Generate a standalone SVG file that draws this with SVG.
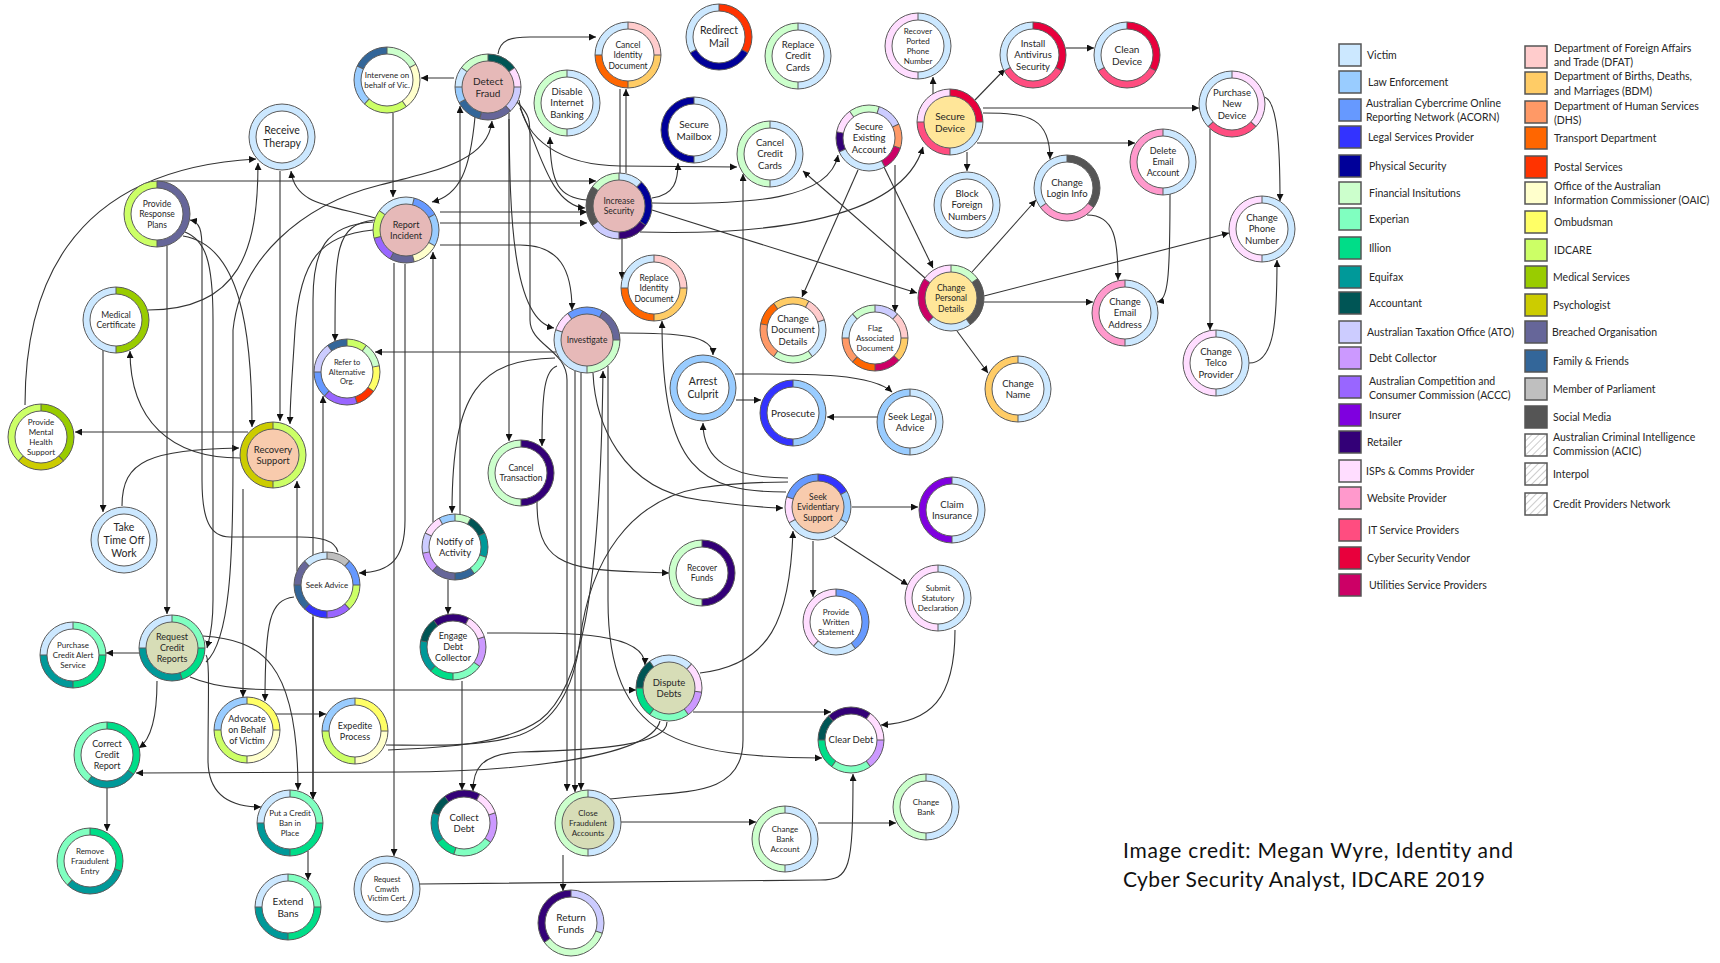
<svg xmlns="http://www.w3.org/2000/svg" width="1720" height="963" viewBox="0 0 1720 963">
<style>
.s{fill:none;stroke-width:7}
.b{fill:none;stroke:#5a5a5a;stroke-width:1}
.sp{stroke:#5a5a5a;stroke-width:1}
.t{font-family:Lato,"Liberation Sans",sans-serif;fill:#262626;text-anchor:middle}
.lg{font-family:Lato,"Liberation Sans",sans-serif;fill:#262626;font-size:10.5px}
.lb{stroke:#555;stroke-width:1.5}
.e{fill:none;stroke:#333;stroke-width:1.1;marker-end:url(#ar)}
.n{fill:none;stroke:#333;stroke-width:1.1}
.vic{stroke:#CCE8FF}.law{stroke:#99CCFF}.aco{stroke:#6699FF}.leg{stroke:#3333FF}.phy{stroke:#000099}
.fin{stroke:#CCFFCC}.exp{stroke:#80FFC0}.ill{stroke:#00DD88}.equ{stroke:#009999}.acc{stroke:#005555}
.ato{stroke:#CCCCFF}.dbt{stroke:#CC99FF}.acc2{stroke:#9966FF}.ins{stroke:#7F00DF}.ret{stroke:#330077}
.isp{stroke:#FFDDFF}.web{stroke:#FF99CC}.its{stroke:#FF4D80}.csv{stroke:#E8003C}.uti{stroke:#CC0066}
.dfa{stroke:#FFCCCC}.bdm{stroke:#FFCC66}.dhs{stroke:#FF9966}.trn{stroke:#FF6600}.pst{stroke:#FF3300}
.oai{stroke:#FFFFCC}.omb{stroke:#FFFF66}.idc{stroke:#CCFF66}.med{stroke:#99CC00}.psy{stroke:#CCCC00}
.bre{stroke:#666699}.fam{stroke:#336699}.mp{stroke:#BFBFBF}.soc{stroke:#555555}
.fw{fill:#fff}.fp{fill:#E6B9B8}.fy{fill:#FFE699}.fc{fill:#F8CBAD}.fo{fill:#D7DDB7}
</style>
<defs>
<marker id="ar" viewBox="0 0 10 10" refX="10" refY="5" markerWidth="7" markerHeight="7" markerUnits="userSpaceOnUse" orient="auto"><path d="M0,0L10,5L0,10z" fill="#111"/></marker>
<pattern id="hatch" patternUnits="userSpaceOnUse" width="5" height="5" patternTransform="rotate(45)"><rect width="5" height="5" fill="#fff"/><line x1="0" y1="0" x2="0" y2="5" stroke="#999" stroke-width="1"/></pattern>
</defs>
<rect width="1720" height="963" fill="#fff"/>

<g id="connectors">
<path class="e" d="M454,78L421,78"/>
<path class="e" d="M498,54C500,40 510,37 530,37L596,37"/>
<path class="e" d="M519,100C525,140 560,165 620,166L737,167"/>
<path class="e" d="M520,108C540,150 550,205 585,208"/>
<path class="e" d="M509,119C510,200 510,320 554,328"/>
<path class="e" d="M475,117C470,170 460,195 432,202"/>
<path class="e" d="M460,515L460,106"/>
<path class="e" d="M509,113L509,441"/>
<path class="e" d="M517,102C530,115 530,120 530,140L530,320C530,345 567,350 567,380L567,791"/>
<path class="e" d="M587,200C560,198 550,185 550,137"/>
<path class="e" d="M652,198C675,195 678,180 678,163"/>
<path class="n" d="M620,173L620,89"/>
<path class="e" d="M626,173L626,89"/>
<path class="e" d="M622,239L622,279"/>
<path class="e" d="M652,203C750,205 830,200 838,155"/>
<path class="e" d="M640,232C750,235 900,225 923,147"/>
<path class="e" d="M652,210L917,293"/>
<path class="e" d="M440,212L587,212"/>
<path class="e" d="M440,223L587,223"/>
<path class="e" d="M157,181L596,181"/>
<path class="e" d="M440,245L520,245C560,245 572,270 572,310"/>
<path class="e" d="M393,113L393,197"/>
<path class="e" d="M375,218C330,205 295,205 291,171"/>
<path class="e" d="M374,220C335,225 335,250 335,341"/>
<path class="e" d="M373,230C320,235 300,260 295,330C292,380 290,400 290,424"/>
<path class="e" d="M373,222C325,225 313,250 313,300L313,799"/>
<path class="e" d="M394,263L394,856"/>
<path class="e" d="M405,264L405,520C405,560 390,572 359,573"/>
<path class="e" d="M433,522L433,252"/>
<path class="e" d="M555,358C480,360 452,390 452,513"/>
<path class="e" d="M556,352L375,352"/>
<path class="e" d="M557,366C545,370 542,390 542,446"/>
<path class="e" d="M575,371L575,792"/>
<path class="e" d="M581,372L581,790"/>
<path class="e" d="M388,750C420,748 500,748 540,720C580,690 600,600 603,371"/>
<path class="n" d="M386,745C420,745 480,748 520,735C560,720 575,680 580,640C590,560 630,500 700,488C740,482 770,482 788,482"/>
<path class="e" d="M608,366L608,600C608,740 680,757 822,758"/>
<path class="e" d="M620,333C680,333 713,335 713,355"/>
<path class="e" d="M736,400L761,400"/>
<path class="e" d="M877,417L827,417"/>
<path class="e" d="M735,374C800,374 870,372 892,392"/>
<path class="e" d="M788,478C730,478 703,460 703,423"/>
<path class="e" d="M786,492C700,492 662,470 662,321"/>
<path class="e" d="M593,373C595,420 620,490 700,500C740,505 760,508 783,508"/>
<path class="e" d="M852,507L918,507"/>
<path class="e" d="M813,541L813,597"/>
<path class="e" d="M834,537L908,585"/>
<path class="e" d="M955,630C955,700 930,722 881,725"/>
<path class="e" d="M700,673C770,665 790,620 793,531"/>
<path class="e" d="M693,712L831,712"/>
<path class="e" d="M667,722C667,745 600,750 520,752C480,754 473,770 473,791"/>
<path class="e" d="M660,721C650,760 500,772 400,772L136,773"/>
<path class="e" d="M487,633C560,633 645,630 645,665"/>
<path class="e" d="M462,681L462,790"/>
<path class="e" d="M448,580L448,614"/>
<path class="e" d="M190,677C220,690 260,690 300,690L636,690"/>
<path class="e" d="M157,681C157,720 150,740 139,748"/>
<path class="e" d="M139,653L106,653"/>
<path class="e" d="M203,636C260,640 298,660 298,790"/>
<path class="e" d="M206,655C210,660 208,700 208,760C208,795 230,807 261,807"/>
<path class="e" d="M107,788L107,831"/>
<path class="e" d="M308,851L308,880"/>
<path class="e" d="M276,714L326,714"/>
<path class="e" d="M621,822L756,822"/>
<path class="e" d="M818,823L896,823"/>
<path class="e" d="M563,855L563,891"/>
<path class="e" d="M610,799C680,790 743,800 743,740L743,174"/>
<path class="e" d="M420,884L820,880C850,880 853,870 853,774"/>
<path class="e" d="M280,171L280,421"/>
<path class="e" d="M25,405C25,300 60,170 256,159"/>
<path class="e" d="M148,310C240,310 258,250 258,163"/>
<path class="e" d="M183,236C240,245 252,330 252,427"/>
<path class="e" d="M185,232C205,240 213,260 213,320L213,600C213,630 209,640 207,648"/>
<path class="e" d="M338,552C335,540 320,537 300,537L230,537C210,537 202,520 202,480L202,250C202,230 200,222 190,220"/>
<path class="e" d="M297,571L297,481"/>
<path class="e" d="M323,553L323,396"/>
<path class="e" d="M248,432L75,432"/>
<path class="e" d="M240,458C170,458 130,420 130,351"/>
<path class="e" d="M122,506C122,460 150,450 239,448"/>
<path class="e" d="M103,350L103,512"/>
<path class="e" d="M167,246L167,614"/>
<path class="e" d="M294,597C270,600 265,620 265,701"/>
<path class="e" d="M243,489L243,697"/>
<path class="e" d="M313,617L313,799"/>
<path class="e" d="M206,662C230,640 233,560 233,460L233,330C240,260 300,205 380,185C440,170 488,160 492,121"/>
<path class="e" d="M925,278L803,171"/>
<path class="e" d="M858,170L802,297"/>
<path class="e" d="M884,167L933,268"/>
<path class="e" d="M895,165L895,312"/>
<path class="e" d="M933,94L933,77"/>
<path class="e" d="M975,100L1005,69"/>
<path class="e" d="M1066,48L1094,48"/>
<path class="e" d="M983,108L1199,108"/>
<path class="e" d="M983,113C1030,113 1050,118 1050,159"/>
<path class="e" d="M977,143L1135,143"/>
<path class="e" d="M967,152L967,171"/>
<path class="e" d="M1264,97C1278,100 1280,150 1280,201"/>
<path class="e" d="M1210,129L1210,330"/>
<path class="e" d="M1249,363C1275,363 1277,320 1277,260"/>
<path class="e" d="M1087,215C1115,215 1118,240 1118,280"/>
<path class="e" d="M1170,194C1170,280 1168,300 1157,302"/>
<path class="e" d="M972,272L1036,200"/>
<path class="e" d="M984,296L1229,233"/>
<path class="e" d="M984,302L1093,302"/>
<path class="e" d="M957,331L988,373"/>
<path class="e" d="M537,502C537,560 560,570 640,572L669,573"/>
</g>

<g id="n-intervene" transform="translate(387,80)"><circle r="26" class="fw"/>
<circle r="29.5" pathLength="100" class="s fin" stroke-dasharray="17 83" stroke-dashoffset="25"/>
<circle r="29.5" pathLength="100" class="s oai" stroke-dasharray="23 77" stroke-dashoffset="8"/>
<circle r="29.5" pathLength="100" class="s idc" stroke-dasharray="22 78" stroke-dashoffset="-15"/>
<circle r="29.5" pathLength="100" class="s law" stroke-dasharray="20 80" stroke-dashoffset="-37"/>
<circle r="29.5" pathLength="100" class="s fam" stroke-dasharray="18 82" stroke-dashoffset="-57"/>
<circle r="33" class="b"/><circle r="26" class="b"/>
<g class="sp"><line y1="-26" y2="-33"/><line y1="-26" y2="-33" transform="rotate(61.2)"/><line y1="-26" y2="-33" transform="rotate(144)"/><line y1="-26" y2="-33" transform="rotate(223.2)"/><line y1="-26" y2="-33" transform="rotate(295.2)"/></g>
<text class="t" font-size="8"><tspan x="0" y="-2.2">Intervene on</tspan><tspan x="0" y="7.8">behalf of Vic.</tspan></text></g>

<g id="n-receive-therapy" transform="translate(282,137)"><circle r="26" class="fw"/>
<circle r="29.5" class="s vic"/><circle r="33" class="b"/><circle r="26" class="b"/>
<text class="t" font-size="10.5"><tspan x="0" y="-2.8">Receive</tspan><tspan x="0" y="10.2">Therapy</tspan></text></g>

<g id="n-provide-response-plans" transform="translate(157,214)"><circle r="26" class="fw"/>
<circle r="29.5" pathLength="100" class="s bre" stroke-dasharray="50 50" stroke-dashoffset="25"/>
<circle r="29.5" pathLength="100" class="s idc" stroke-dasharray="50 50" stroke-dashoffset="-25"/>
<circle r="33" class="b"/><circle r="26" class="b"/><path class="sp" d="M0,-26V-33M0,26V33"/>
<text class="t" font-size="8.5"><tspan x="0" y="-7.5">Provide</tspan><tspan x="0" y="3">Response</tspan><tspan x="0" y="13.5">Plans</tspan></text></g>

<g id="n-report-incident" transform="translate(406,230)"><circle r="26" class="fp"/>
<circle r="29.5" pathLength="100" class="s aco" stroke-dasharray="13 87" stroke-dashoffset="21"/>
<circle r="29.5" pathLength="100" class="s law" stroke-dasharray="16 84" stroke-dashoffset="8"/>
<circle r="29.5" pathLength="100" class="s oai" stroke-dasharray="13 87" stroke-dashoffset="-8"/>
<circle r="29.5" pathLength="100" class="s bre" stroke-dasharray="12 88" stroke-dashoffset="-21"/>
<circle r="29.5" pathLength="100" class="s acc2" stroke-dasharray="13 87" stroke-dashoffset="-33"/>
<circle r="29.5" pathLength="100" class="s idc" stroke-dasharray="14 86" stroke-dashoffset="-46"/>
<circle r="29.5" pathLength="100" class="s vic" stroke-dasharray="19 81" stroke-dashoffset="-60"/>
<circle r="33" class="b"/><circle r="26" class="b"/>
<g class="sp"><line y1="-26" y2="-33" transform="rotate(14.4)"/><line y1="-26" y2="-33" transform="rotate(61.2)"/><line y1="-26" y2="-33" transform="rotate(118.8)"/><line y1="-26" y2="-33" transform="rotate(165.6)"/><line y1="-26" y2="-33" transform="rotate(208.8)"/><line y1="-26" y2="-33" transform="rotate(255.6)"/><line y1="-26" y2="-33" transform="rotate(306)"/></g>
<text class="t" font-size="9"><tspan x="0" y="-2.3">Report</tspan><tspan x="0" y="8.7">Incident</tspan></text></g>

<g id="n-medical-certificate" transform="translate(116,320)"><circle r="26" class="fw"/>
<circle r="29.5" pathLength="100" class="s med" stroke-dasharray="50 50" stroke-dashoffset="25"/>
<circle r="29.5" pathLength="100" class="s vic" stroke-dasharray="50 50" stroke-dashoffset="-25"/>
<circle r="33" class="b"/><circle r="26" class="b"/><path class="sp" d="M0,-26V-33M0,26V33"/>
<text class="t" font-size="8.5"><tspan x="0" y="-2.25">Medical</tspan><tspan x="0" y="8.25">Certificate</tspan></text></g>

<g id="n-detect-fraud" transform="translate(488,87)"><circle r="26" class="fp"/>
<circle r="29.5" pathLength="100" class="s acc" stroke-dasharray="15 85" stroke-dashoffset="25"/>
<circle r="29.5" pathLength="100" class="s isp" stroke-dasharray="10 90" stroke-dashoffset="10"/>
<circle r="29.5" pathLength="100" class="s ato" stroke-dasharray="13 87" stroke-dashoffset="0"/>
<circle r="29.5" pathLength="100" class="s bre" stroke-dasharray="16 84" stroke-dashoffset="-13"/>
<circle r="29.5" pathLength="100" class="s fam" stroke-dasharray="13 87" stroke-dashoffset="-29"/>
<circle r="29.5" pathLength="100" class="s law" stroke-dasharray="8 92" stroke-dashoffset="-42"/>
<circle r="29.5" pathLength="100" class="s vic" stroke-dasharray="10 90" stroke-dashoffset="-50"/>
<circle r="29.5" pathLength="100" class="s fin" stroke-dasharray="15 85" stroke-dashoffset="-60"/>
<circle r="33" class="b"/><circle r="26" class="b"/>
<g class="sp"><line y1="-26" y2="-33"/><line y1="-26" y2="-33" transform="rotate(54)"/><line y1="-26" y2="-33" transform="rotate(90)"/><line y1="-26" y2="-33" transform="rotate(136.8)"/><line y1="-26" y2="-33" transform="rotate(194.4)"/><line y1="-26" y2="-33" transform="rotate(241.2)"/><line y1="-26" y2="-33" transform="rotate(270)"/><line y1="-26" y2="-33" transform="rotate(306)"/></g>
<text class="t" font-size="10"><tspan x="0" y="-2.5">Detect</tspan><tspan x="0" y="9.5">Fraud</tspan></text></g>

<g id="n-cancel-identity-document" transform="translate(628,55)"><circle r="26" class="fw"/>
<circle r="29.5" pathLength="100" class="s dfa" stroke-dasharray="25 75" stroke-dashoffset="25"/>
<circle r="29.5" pathLength="100" class="s bdm" stroke-dasharray="25 75" stroke-dashoffset="0"/>
<circle r="29.5" pathLength="100" class="s trn" stroke-dasharray="25 75" stroke-dashoffset="-25"/>
<circle r="29.5" pathLength="100" class="s vic" stroke-dasharray="25 75" stroke-dashoffset="-50"/>
<circle r="33" class="b"/><circle r="26" class="b"/><path class="sp" d="M0,-26V-33M0,26V33M26,0H33M-26,0H-33"/>
<text class="t" font-size="8.5"><tspan x="0" y="-7.5">Cancel</tspan><tspan x="0" y="3">Identity</tspan><tspan x="0" y="13.5">Document</tspan></text></g>

<g id="n-redirect-mail" transform="translate(719,37)"><circle r="26" class="fw"/>
<circle r="29.5" pathLength="100" class="s pst" stroke-dasharray="33 67" stroke-dashoffset="25"/>
<circle r="29.5" pathLength="100" class="s phy" stroke-dasharray="34 66" stroke-dashoffset="-8"/>
<circle r="29.5" pathLength="100" class="s vic" stroke-dasharray="33 67" stroke-dashoffset="-42"/>
<circle r="33" class="b"/><circle r="26" class="b"/>
<g class="sp"><line y1="-26" y2="-33"/><line y1="-26" y2="-33" transform="rotate(118.8)"/><line y1="-26" y2="-33" transform="rotate(241.2)"/></g>
<text class="t" font-size="10.5"><tspan x="0" y="-2.8">Redirect</tspan><tspan x="0" y="10.2">Mail</tspan></text></g>

<g id="n-replace-credit-cards" transform="translate(798,56)"><circle r="26" class="fw"/>
<circle r="29.5" pathLength="100" class="s vic" stroke-dasharray="50 50" stroke-dashoffset="25"/>
<circle r="29.5" pathLength="100" class="s fin" stroke-dasharray="50 50" stroke-dashoffset="-25"/>
<circle r="33" class="b"/><circle r="26" class="b"/><path class="sp" d="M0,-26V-33M0,26V33"/>
<text class="t" font-size="9.5"><tspan x="0" y="-8.2">Replace</tspan><tspan x="0" y="3.3">Credit</tspan><tspan x="0" y="14.8">Cards</tspan></text></g>

<g id="n-disable-internet-banking" transform="translate(567,103)"><circle r="26" class="fw"/>
<circle r="29.5" pathLength="100" class="s vic" stroke-dasharray="50 50" stroke-dashoffset="25"/>
<circle r="29.5" pathLength="100" class="s fin" stroke-dasharray="50 50" stroke-dashoffset="-25"/>
<circle r="33" class="b"/><circle r="26" class="b"/><path class="sp" d="M0,-26V-33M0,26V33"/>
<text class="t" font-size="9.5"><tspan x="0" y="-8.2">Disable</tspan><tspan x="0" y="3.3">Internet</tspan><tspan x="0" y="14.8">Banking</tspan></text></g>

<g id="n-secure-mailbox" transform="translate(694,130)"><circle r="26" class="fw"/>
<circle r="29.5" pathLength="100" class="s vic" stroke-dasharray="50 50" stroke-dashoffset="25"/>
<circle r="29.5" pathLength="100" class="s phy" stroke-dasharray="50 50" stroke-dashoffset="-25"/>
<circle r="33" class="b"/><circle r="26" class="b"/><path class="sp" d="M0,-26V-33M0,26V33"/>
<text class="t" font-size="10"><tspan x="0" y="-2.5">Secure</tspan><tspan x="0" y="9.5">Mailbox</tspan></text></g>

<g id="n-cancel-credit-cards" transform="translate(770,154)"><circle r="26" class="fw"/>
<circle r="29.5" pathLength="100" class="s vic" stroke-dasharray="50 50" stroke-dashoffset="25"/>
<circle r="29.5" pathLength="100" class="s fin" stroke-dasharray="50 50" stroke-dashoffset="-25"/>
<circle r="33" class="b"/><circle r="26" class="b"/><path class="sp" d="M0,-26V-33M0,26V33"/>
<text class="t" font-size="9.5"><tspan x="0" y="-8.2">Cancel</tspan><tspan x="0" y="3.3">Credit</tspan><tspan x="0" y="14.8">Cards</tspan></text></g>

<g id="n-secure-existing-account" transform="translate(869,138)"><circle r="26" class="fw"/>
<circle r="29.5" pathLength="100" class="s fin" stroke-dasharray="15 85" stroke-dashoffset="-65"/>
<circle r="29.5" pathLength="100" class="s ato" stroke-dasharray="13 87" stroke-dashoffset="20"/>
<circle r="29.5" pathLength="100" class="s dhs" stroke-dasharray="12 88" stroke-dashoffset="7"/>
<circle r="29.5" pathLength="100" class="s uti" stroke-dasharray="12 88" stroke-dashoffset="-5"/>
<circle r="29.5" pathLength="100" class="s vic" stroke-dasharray="26 74" stroke-dashoffset="-17"/>
<circle r="29.5" pathLength="100" class="s ret" stroke-dasharray="10 90" stroke-dashoffset="-43"/>
<circle r="29.5" pathLength="100" class="s isp" stroke-dasharray="12 88" stroke-dashoffset="-53"/>
<circle r="33" class="b"/><circle r="26" class="b"/>
<g class="sp"><line y1="-26" y2="-33" transform="rotate(18)"/><line y1="-26" y2="-33" transform="rotate(64.8)"/><line y1="-26" y2="-33" transform="rotate(108)"/><line y1="-26" y2="-33" transform="rotate(151.2)"/><line y1="-26" y2="-33" transform="rotate(244.8)"/><line y1="-26" y2="-33" transform="rotate(280.8)"/><line y1="-26" y2="-33" transform="rotate(324)"/></g>
<text class="t" font-size="9.5"><tspan x="0" y="-8.2">Secure</tspan><tspan x="0" y="3.3">Existing</tspan><tspan x="0" y="14.8">Account</tspan></text></g>

<g id="n-increase-security" transform="translate(619,206)"><circle r="26" class="fp"/>
<circle r="29.5" pathLength="100" class="s vic" stroke-dasharray="12 88" stroke-dashoffset="25"/>
<circle r="29.5" pathLength="100" class="s phy" stroke-dasharray="23 77" stroke-dashoffset="13"/>
<circle r="29.5" pathLength="100" class="s ret" stroke-dasharray="15 85" stroke-dashoffset="-10"/>
<circle r="29.5" pathLength="100" class="s ato" stroke-dasharray="15 85" stroke-dashoffset="-25"/>
<circle r="29.5" pathLength="100" class="s soc" stroke-dasharray="20 80" stroke-dashoffset="-40"/>
<circle r="29.5" pathLength="100" class="s fin" stroke-dasharray="15 85" stroke-dashoffset="-60"/>
<circle r="33" class="b"/><circle r="26" class="b"/>
<g class="sp"><line y1="-26" y2="-33"/><line y1="-26" y2="-33" transform="rotate(43.2)"/><line y1="-26" y2="-33" transform="rotate(126)"/><line y1="-26" y2="-33" transform="rotate(180)"/><line y1="-26" y2="-33" transform="rotate(234)"/><line y1="-26" y2="-33" transform="rotate(306)"/></g>
<text class="t" font-size="8.5"><tspan x="0" y="-2.25">Increase</tspan><tspan x="0" y="8.25">Security</tspan></text></g>

<g id="n-replace-identity-document" transform="translate(654,288)"><circle r="26" class="fw"/>
<circle r="29.5" pathLength="100" class="s dfa" stroke-dasharray="25 75" stroke-dashoffset="25"/>
<circle r="29.5" pathLength="100" class="s bdm" stroke-dasharray="25 75" stroke-dashoffset="0"/>
<circle r="29.5" pathLength="100" class="s trn" stroke-dasharray="25 75" stroke-dashoffset="-25"/>
<circle r="29.5" pathLength="100" class="s vic" stroke-dasharray="25 75" stroke-dashoffset="-50"/>
<circle r="33" class="b"/><circle r="26" class="b"/><path class="sp" d="M0,-26V-33M0,26V33M26,0H33M-26,0H-33"/>
<text class="t" font-size="8.5"><tspan x="0" y="-7.5">Replace</tspan><tspan x="0" y="3">Identity</tspan><tspan x="0" y="13.5">Document</tspan></text></g>

<g id="n-investigate" transform="translate(587,340)"><circle r="26" class="fp"/>
<circle r="29.5" pathLength="100" class="s aco" stroke-dasharray="18 82" stroke-dashoffset="-65"/>
<circle r="29.5" pathLength="100" class="s bre" stroke-dasharray="17 83" stroke-dashoffset="17"/>
<circle r="29.5" pathLength="100" class="s fin" stroke-dasharray="25 75" stroke-dashoffset="0"/>
<circle r="29.5" pathLength="100" class="s vic" stroke-dasharray="30 70" stroke-dashoffset="-25"/>
<circle r="29.5" pathLength="100" class="s isp" stroke-dasharray="10 90" stroke-dashoffset="-55"/>
<circle r="33" class="b"/><circle r="26" class="b"/>
<g class="sp"><line y1="-26" y2="-33" transform="rotate(28.8)"/><line y1="-26" y2="-33" transform="rotate(90)"/><line y1="-26" y2="-33" transform="rotate(180)"/><line y1="-26" y2="-33" transform="rotate(288)"/><line y1="-26" y2="-33" transform="rotate(324)"/></g>
<text class="t" font-size="8.5"><tspan x="0" y="3">Investigate</tspan></text></g>

<g id="n-recover-ported-phone-number" transform="translate(918,46)"><circle r="26" class="fw"/>
<circle r="29.5" pathLength="100" class="s vic" stroke-dasharray="50 50" stroke-dashoffset="25"/>
<circle r="29.5" pathLength="100" class="s isp" stroke-dasharray="50 50" stroke-dashoffset="-25"/>
<circle r="33" class="b"/><circle r="26" class="b"/><path class="sp" d="M0,-26V-33M0,26V33"/>
<text class="t" font-size="8"><tspan x="0" y="-12.2">Recover</tspan><tspan x="0" y="-2.2">Ported</tspan><tspan x="0" y="7.8">Phone</tspan><tspan x="0" y="17.8">Number</tspan></text></g>

<g id="n-install-antivirus-security" transform="translate(1033,55)"><circle r="26" class="fw"/>
<circle r="29.5" pathLength="100" class="s csv" stroke-dasharray="33 67" stroke-dashoffset="25"/>
<circle r="29.5" pathLength="100" class="s its" stroke-dasharray="34 66" stroke-dashoffset="-8"/>
<circle r="29.5" pathLength="100" class="s vic" stroke-dasharray="33 67" stroke-dashoffset="-42"/>
<circle r="33" class="b"/><circle r="26" class="b"/>
<g class="sp"><line y1="-26" y2="-33"/><line y1="-26" y2="-33" transform="rotate(118.8)"/><line y1="-26" y2="-33" transform="rotate(241.2)"/></g>
<text class="t" font-size="9.5"><tspan x="0" y="-8.2">Install</tspan><tspan x="0" y="3.3">Antivirus</tspan><tspan x="0" y="14.8">Security</tspan></text></g>

<g id="n-clean-device" transform="translate(1127,55)"><circle r="26" class="fw"/>
<circle r="29.5" pathLength="100" class="s csv" stroke-dasharray="33 67" stroke-dashoffset="25"/>
<circle r="29.5" pathLength="100" class="s its" stroke-dasharray="34 66" stroke-dashoffset="-8"/>
<circle r="29.5" pathLength="100" class="s vic" stroke-dasharray="33 67" stroke-dashoffset="-42"/>
<circle r="33" class="b"/><circle r="26" class="b"/>
<g class="sp"><line y1="-26" y2="-33"/><line y1="-26" y2="-33" transform="rotate(118.8)"/><line y1="-26" y2="-33" transform="rotate(241.2)"/></g>
<text class="t" font-size="10"><tspan x="0" y="-2.5">Clean</tspan><tspan x="0" y="9.5">Device</tspan></text></g>

<g id="n-purchase-new-device" transform="translate(1232,104)"><circle r="26" class="fw"/>
<circle r="29.5" pathLength="100" class="s isp" stroke-dasharray="37 63" stroke-dashoffset="25"/>
<circle r="29.5" pathLength="100" class="s its" stroke-dasharray="26 74" stroke-dashoffset="-12"/>
<circle r="29.5" pathLength="100" class="s vic" stroke-dasharray="37 63" stroke-dashoffset="-38"/>
<circle r="33" class="b"/><circle r="26" class="b"/>
<g class="sp"><line y1="-26" y2="-33"/><line y1="-26" y2="-33" transform="rotate(133.2)"/><line y1="-26" y2="-33" transform="rotate(226.8)"/></g>
<text class="t" font-size="9.5"><tspan x="0" y="-8.2">Purchase</tspan><tspan x="0" y="3.3">New</tspan><tspan x="0" y="14.8">Device</tspan></text></g>

<g id="n-secure-device" transform="translate(950,122)"><circle r="26" class="fy"/>
<circle r="29.5" pathLength="100" class="s csv" stroke-dasharray="25 75" stroke-dashoffset="25"/>
<circle r="29.5" pathLength="100" class="s vic" stroke-dasharray="25 75" stroke-dashoffset="0"/>
<circle r="29.5" pathLength="100" class="s its" stroke-dasharray="25 75" stroke-dashoffset="-25"/>
<circle r="29.5" pathLength="100" class="s isp" stroke-dasharray="25 75" stroke-dashoffset="-50"/>
<circle r="33" class="b"/><circle r="26" class="b"/><path class="sp" d="M0,-26V-33M0,26V33M26,0H33M-26,0H-33"/>
<text class="t" font-size="10"><tspan x="0" y="-2.5">Secure</tspan><tspan x="0" y="9.5">Device</tspan></text></g>

<g id="n-block-foreign-numbers" transform="translate(967,205)"><circle r="26" class="fw"/>
<circle r="29.5" class="s vic"/><circle r="33" class="b"/><circle r="26" class="b"/>
<text class="t" font-size="9.5"><tspan x="0" y="-8.2">Block</tspan><tspan x="0" y="3.3">Foreign</tspan><tspan x="0" y="14.8">Numbers</tspan></text></g>

<g id="n-change-login-info" transform="translate(1067,188)"><circle r="26" class="fw"/>
<circle r="29.5" pathLength="100" class="s soc" stroke-dasharray="35 65" stroke-dashoffset="25"/>
<circle r="29.5" pathLength="100" class="s web" stroke-dasharray="30 70" stroke-dashoffset="-10"/>
<circle r="29.5" pathLength="100" class="s vic" stroke-dasharray="35 65" stroke-dashoffset="-40"/>
<circle r="33" class="b"/><circle r="26" class="b"/>
<g class="sp"><line y1="-26" y2="-33"/><line y1="-26" y2="-33" transform="rotate(126)"/><line y1="-26" y2="-33" transform="rotate(234)"/></g>
<text class="t" font-size="9.5"><tspan x="0" y="-2.4">Change</tspan><tspan x="0" y="9.1">Login Info</tspan></text></g>

<g id="n-delete-email-account" transform="translate(1163,162)"><circle r="26" class="fw"/>
<circle r="29.5" pathLength="100" class="s vic" stroke-dasharray="50 50" stroke-dashoffset="25"/>
<circle r="29.5" pathLength="100" class="s web" stroke-dasharray="50 50" stroke-dashoffset="-25"/>
<circle r="33" class="b"/><circle r="26" class="b"/><path class="sp" d="M0,-26V-33M0,26V33"/>
<text class="t" font-size="9"><tspan x="0" y="-7.8">Delete</tspan><tspan x="0" y="3.2">Email</tspan><tspan x="0" y="14.2">Account</tspan></text></g>

<g id="n-change-phone-number" transform="translate(1262,229)"><circle r="26" class="fw"/>
<circle r="29.5" pathLength="100" class="s vic" stroke-dasharray="50 50" stroke-dashoffset="25"/>
<circle r="29.5" pathLength="100" class="s isp" stroke-dasharray="50 50" stroke-dashoffset="-25"/>
<circle r="33" class="b"/><circle r="26" class="b"/><path class="sp" d="M0,-26V-33M0,26V33"/>
<text class="t" font-size="9.5"><tspan x="0" y="-8.2">Change</tspan><tspan x="0" y="3.3">Phone</tspan><tspan x="0" y="14.8">Number</tspan></text></g>

<g id="n-change-personal-details" transform="translate(951,298)"><circle r="26" class="fy"/>
<circle r="29.5" pathLength="100" class="s fin" stroke-dasharray="15 85" stroke-dashoffset="25"/>
<circle r="29.5" pathLength="100" class="s soc" stroke-dasharray="25 75" stroke-dashoffset="10"/>
<circle r="29.5" pathLength="100" class="s vic" stroke-dasharray="22 78" stroke-dashoffset="-15"/>
<circle r="29.5" pathLength="100" class="s uti" stroke-dasharray="23 77" stroke-dashoffset="-37"/>
<circle r="29.5" pathLength="100" class="s isp" stroke-dasharray="15 85" stroke-dashoffset="-60"/>
<circle r="33" class="b"/><circle r="26" class="b"/>
<g class="sp"><line y1="-26" y2="-33"/><line y1="-26" y2="-33" transform="rotate(54)"/><line y1="-26" y2="-33" transform="rotate(144)"/><line y1="-26" y2="-33" transform="rotate(223.2)"/><line y1="-26" y2="-33" transform="rotate(306)"/></g>
<text class="t" font-size="8.5"><tspan x="0" y="-7.5">Change</tspan><tspan x="0" y="3">Personal</tspan><tspan x="0" y="13.5">Details</tspan></text></g>

<g id="n-change-email-address" transform="translate(1125,313)"><circle r="26" class="fw"/>
<circle r="29.5" pathLength="100" class="s vic" stroke-dasharray="50 50" stroke-dashoffset="25"/>
<circle r="29.5" pathLength="100" class="s web" stroke-dasharray="50 50" stroke-dashoffset="-25"/>
<circle r="33" class="b"/><circle r="26" class="b"/><path class="sp" d="M0,-26V-33M0,26V33"/>
<text class="t" font-size="9.5"><tspan x="0" y="-8.2">Change</tspan><tspan x="0" y="3.3">Email</tspan><tspan x="0" y="14.8">Address</tspan></text></g>

<g id="n-change-telco-provider" transform="translate(1216,363)"><circle r="26" class="fw"/>
<circle r="29.5" pathLength="100" class="s vic" stroke-dasharray="50 50" stroke-dashoffset="25"/>
<circle r="29.5" pathLength="100" class="s isp" stroke-dasharray="50 50" stroke-dashoffset="-25"/>
<circle r="33" class="b"/><circle r="26" class="b"/><path class="sp" d="M0,-26V-33M0,26V33"/>
<text class="t" font-size="9.5"><tspan x="0" y="-8.2">Change</tspan><tspan x="0" y="3.3">Telco</tspan><tspan x="0" y="14.8">Provider</tspan></text></g>

<g id="n-change-name" transform="translate(1018,389)"><circle r="26" class="fw"/>
<circle r="29.5" pathLength="100" class="s vic" stroke-dasharray="50 50" stroke-dashoffset="25"/>
<circle r="29.5" pathLength="100" class="s bdm" stroke-dasharray="50 50" stroke-dashoffset="-25"/>
<circle r="33" class="b"/><circle r="26" class="b"/><path class="sp" d="M0,-26V-33M0,26V33"/>
<text class="t" font-size="9.5"><tspan x="0" y="-2.4">Change</tspan><tspan x="0" y="9.1">Name</tspan></text></g>

<g id="n-seek-legal-advice" transform="translate(910,422)"><circle r="26" class="fw"/>
<circle r="29.5" pathLength="100" class="s vic" stroke-dasharray="50 50" stroke-dashoffset="25"/>
<circle r="29.5" pathLength="100" class="s law" stroke-dasharray="50 50" stroke-dashoffset="-25"/>
<circle r="33" class="b"/><circle r="26" class="b"/><path class="sp" d="M0,-26V-33M0,26V33"/>
<text class="t" font-size="9.5"><tspan x="0" y="-2.4">Seek Legal</tspan><tspan x="0" y="9.1">Advice</tspan></text></g>

<g id="n-claim-insurance" transform="translate(952,510)"><circle r="26" class="fw"/>
<circle r="29.5" pathLength="100" class="s vic" stroke-dasharray="50 50" stroke-dashoffset="25"/>
<circle r="29.5" pathLength="100" class="s ins" stroke-dasharray="50 50" stroke-dashoffset="-25"/>
<circle r="33" class="b"/><circle r="26" class="b"/><path class="sp" d="M0,-26V-33M0,26V33"/>
<text class="t" font-size="9.5"><tspan x="0" y="-2.4">Claim</tspan><tspan x="0" y="9.1">Insurance</tspan></text></g>

<g id="n-submit-statutory-declaration" transform="translate(938,598)"><circle r="26" class="fw"/>
<circle r="29.5" pathLength="100" class="s vic" stroke-dasharray="50 50" stroke-dashoffset="25"/>
<circle r="29.5" pathLength="100" class="s isp" stroke-dasharray="50 50" stroke-dashoffset="-25"/>
<circle r="33" class="b"/><circle r="26" class="b"/><path class="sp" d="M0,-26V-33M0,26V33"/>
<text class="t" font-size="8"><tspan x="0" y="-7.2">Submit</tspan><tspan x="0" y="2.8">Statutory</tspan><tspan x="0" y="12.8">Declaration</tspan></text></g>

<g id="n-change-document-details" transform="translate(793,330)"><circle r="26" class="fw"/>
<circle r="29.5" pathLength="100" class="s bdm" stroke-dasharray="18 82" stroke-dashoffset="-65"/>
<circle r="29.5" pathLength="100" class="s dfa" stroke-dasharray="12 88" stroke-dashoffset="17"/>
<circle r="29.5" pathLength="100" class="s vic" stroke-dasharray="20 80" stroke-dashoffset="5"/>
<circle r="29.5" pathLength="100" class="s fin" stroke-dasharray="20 80" stroke-dashoffset="-15"/>
<circle r="29.5" pathLength="100" class="s dhs" stroke-dasharray="18 82" stroke-dashoffset="-35"/>
<circle r="29.5" pathLength="100" class="s trn" stroke-dasharray="12 88" stroke-dashoffset="-53"/>
<circle r="33" class="b"/><circle r="26" class="b"/>
<g class="sp"><line y1="-26" y2="-33" transform="rotate(28.8)"/><line y1="-26" y2="-33" transform="rotate(72)"/><line y1="-26" y2="-33" transform="rotate(144)"/><line y1="-26" y2="-33" transform="rotate(216)"/><line y1="-26" y2="-33" transform="rotate(280.8)"/><line y1="-26" y2="-33" transform="rotate(324)"/></g>
<text class="t" font-size="9.5"><tspan x="0" y="-8.2">Change</tspan><tspan x="0" y="3.3">Document</tspan><tspan x="0" y="14.8">Details</tspan></text></g>

<g id="n-flag-associated-document" transform="translate(875,338)"><circle r="26" class="fw"/>
<circle r="29.5" pathLength="100" class="s ato" stroke-dasharray="12 88" stroke-dashoffset="25"/>
<circle r="29.5" pathLength="100" class="s dfa" stroke-dasharray="13 87" stroke-dashoffset="13"/>
<circle r="29.5" pathLength="100" class="s bdm" stroke-dasharray="12 88" stroke-dashoffset="0"/>
<circle r="29.5" pathLength="100" class="s uti" stroke-dasharray="13 87" stroke-dashoffset="-12"/>
<circle r="29.5" pathLength="100" class="s trn" stroke-dasharray="12 88" stroke-dashoffset="-25"/>
<circle r="29.5" pathLength="100" class="s dhs" stroke-dasharray="13 87" stroke-dashoffset="-37"/>
<circle r="29.5" pathLength="100" class="s vic" stroke-dasharray="13 87" stroke-dashoffset="-50"/>
<circle r="29.5" pathLength="100" class="s fin" stroke-dasharray="12 88" stroke-dashoffset="-63"/>
<circle r="33" class="b"/><circle r="26" class="b"/>
<g class="sp"><line y1="-26" y2="-33"/><line y1="-26" y2="-33" transform="rotate(43.2)"/><line y1="-26" y2="-33" transform="rotate(90)"/><line y1="-26" y2="-33" transform="rotate(133.2)"/><line y1="-26" y2="-33" transform="rotate(180)"/><line y1="-26" y2="-33" transform="rotate(223.2)"/><line y1="-26" y2="-33" transform="rotate(270)"/><line y1="-26" y2="-33" transform="rotate(316.8)"/></g>
<text class="t" font-size="8"><tspan x="0" y="-7.2">Flag</tspan><tspan x="0" y="2.8">Associated</tspan><tspan x="0" y="12.8">Document</tspan></text></g>

<g id="n-arrest-culprit" transform="translate(703,388)"><circle r="26" class="fw"/>
<circle r="29.5" class="s law"/><circle r="33" class="b"/><circle r="26" class="b"/>
<text class="t" font-size="10.5"><tspan x="0" y="-2.8">Arrest</tspan><tspan x="0" y="10.2">Culprit</tspan></text></g>

<g id="n-prosecute" transform="translate(793,413)"><circle r="26" class="fw"/>
<circle r="29.5" pathLength="100" class="s law" stroke-dasharray="50 50" stroke-dashoffset="25"/>
<circle r="29.5" pathLength="100" class="s leg" stroke-dasharray="50 50" stroke-dashoffset="-25"/>
<circle r="33" class="b"/><circle r="26" class="b"/><path class="sp" d="M0,-26V-33M0,26V33"/>
<text class="t" font-size="10"><tspan x="0" y="3.5">Prosecute</tspan></text></g>

<g id="n-cancel-transaction" transform="translate(521,473)"><circle r="26" class="fw"/>
<circle r="29.5" pathLength="100" class="s ret" stroke-dasharray="50 50" stroke-dashoffset="25"/>
<circle r="29.5" pathLength="100" class="s fin" stroke-dasharray="50 50" stroke-dashoffset="-25"/>
<circle r="33" class="b"/><circle r="26" class="b"/><path class="sp" d="M0,-26V-33M0,26V33"/>
<text class="t" font-size="8.5"><tspan x="0" y="-2.25">Cancel</tspan><tspan x="0" y="8.25">Transaction</tspan></text></g>

<g id="n-seek-evidentiary-support" transform="translate(818,507)"><circle r="26" class="fc"/>
<circle r="29.5" pathLength="100" class="s leg" stroke-dasharray="17 83" stroke-dashoffset="25"/>
<circle r="29.5" pathLength="100" class="s law" stroke-dasharray="16 84" stroke-dashoffset="8"/>
<circle r="29.5" pathLength="100" class="s vic" stroke-dasharray="34 66" stroke-dashoffset="-8"/>
<circle r="29.5" pathLength="100" class="s isp" stroke-dasharray="13 87" stroke-dashoffset="-42"/>
<circle r="29.5" pathLength="100" class="s aco" stroke-dasharray="20 80" stroke-dashoffset="-55"/>
<circle r="33" class="b"/><circle r="26" class="b"/>
<g class="sp"><line y1="-26" y2="-33"/><line y1="-26" y2="-33" transform="rotate(61.2)"/><line y1="-26" y2="-33" transform="rotate(118.8)"/><line y1="-26" y2="-33" transform="rotate(241.2)"/><line y1="-26" y2="-33" transform="rotate(288)"/></g>
<text class="t" font-size="8.5"><tspan x="0" y="-7.5">Seek</tspan><tspan x="0" y="3">Evidentiary</tspan><tspan x="0" y="13.5">Support</tspan></text></g>

<g id="n-notify-of-activity" transform="translate(455,547)"><circle r="26" class="fw"/>
<circle r="29.5" pathLength="100" class="s fin" stroke-dasharray="8 92" stroke-dashoffset="25"/>
<circle r="29.5" pathLength="100" class="s acc" stroke-dasharray="10 90" stroke-dashoffset="17"/>
<circle r="29.5" pathLength="100" class="s equ" stroke-dasharray="12 88" stroke-dashoffset="7"/>
<circle r="29.5" pathLength="100" class="s exp" stroke-dasharray="10 90" stroke-dashoffset="-5"/>
<circle r="29.5" pathLength="100" class="s fam" stroke-dasharray="10 90" stroke-dashoffset="-15"/>
<circle r="29.5" pathLength="100" class="s bre" stroke-dasharray="12 88" stroke-dashoffset="-25"/>
<circle r="29.5" pathLength="100" class="s dbt" stroke-dasharray="10 90" stroke-dashoffset="-37"/>
<circle r="29.5" pathLength="100" class="s ato" stroke-dasharray="10 90" stroke-dashoffset="-47"/>
<circle r="29.5" pathLength="100" class="s isp" stroke-dasharray="10 90" stroke-dashoffset="-57"/>
<circle r="29.5" pathLength="100" class="s law" stroke-dasharray="8 92" stroke-dashoffset="-67"/>
<circle r="33" class="b"/><circle r="26" class="b"/>
<g class="sp"><line y1="-26" y2="-33"/><line y1="-26" y2="-33" transform="rotate(28.8)"/><line y1="-26" y2="-33" transform="rotate(64.8)"/><line y1="-26" y2="-33" transform="rotate(108)"/><line y1="-26" y2="-33" transform="rotate(144)"/><line y1="-26" y2="-33" transform="rotate(180)"/><line y1="-26" y2="-33" transform="rotate(223.2)"/><line y1="-26" y2="-33" transform="rotate(259.2)"/><line y1="-26" y2="-33" transform="rotate(295.2)"/><line y1="-26" y2="-33" transform="rotate(331.2)"/></g>
<text class="t" font-size="9.5"><tspan x="0" y="-2.4">Notify of</tspan><tspan x="0" y="9.1">Activity</tspan></text></g>

<g id="n-recover-funds" transform="translate(702,573)"><circle r="26" class="fw"/>
<circle r="29.5" pathLength="100" class="s ret" stroke-dasharray="50 50" stroke-dashoffset="25"/>
<circle r="29.5" pathLength="100" class="s fin" stroke-dasharray="50 50" stroke-dashoffset="-25"/>
<circle r="33" class="b"/><circle r="26" class="b"/><path class="sp" d="M0,-26V-33M0,26V33"/>
<text class="t" font-size="8.5"><tspan x="0" y="-2.25">Recover</tspan><tspan x="0" y="8.25">Funds</tspan></text></g>

<g id="n-provide-written-statement" transform="translate(836,622)"><circle r="26" class="fw"/>
<circle r="29.5" pathLength="100" class="s aco" stroke-dasharray="40 60" stroke-dashoffset="25"/>
<circle r="29.5" pathLength="100" class="s vic" stroke-dasharray="22 78" stroke-dashoffset="-15"/>
<circle r="29.5" pathLength="100" class="s isp" stroke-dasharray="38 62" stroke-dashoffset="-37"/>
<circle r="33" class="b"/><circle r="26" class="b"/>
<g class="sp"><line y1="-26" y2="-33"/><line y1="-26" y2="-33" transform="rotate(144)"/><line y1="-26" y2="-33" transform="rotate(223.2)"/></g>
<text class="t" font-size="8"><tspan x="0" y="-7.2">Provide</tspan><tspan x="0" y="2.8">Written</tspan><tspan x="0" y="12.8">Statement</tspan></text></g>

<g id="n-refer-to-alternative-org" transform="translate(347,372)"><circle r="26" class="fw"/>
<circle r="29.5" pathLength="100" class="s idc" stroke-dasharray="10 90" stroke-dashoffset="25"/>
<circle r="29.5" pathLength="100" class="s fin" stroke-dasharray="12 88" stroke-dashoffset="15"/>
<circle r="29.5" pathLength="100" class="s omb" stroke-dasharray="13 87" stroke-dashoffset="3"/>
<circle r="29.5" pathLength="100" class="s pst" stroke-dasharray="10 90" stroke-dashoffset="-10"/>
<circle r="29.5" pathLength="100" class="s acc2" stroke-dasharray="17 83" stroke-dashoffset="-20"/>
<circle r="29.5" pathLength="100" class="s aco" stroke-dasharray="13 87" stroke-dashoffset="-37"/>
<circle r="29.5" pathLength="100" class="s ato" stroke-dasharray="15 85" stroke-dashoffset="-50"/>
<circle r="29.5" pathLength="100" class="s fam" stroke-dasharray="10 90" stroke-dashoffset="-65"/>
<circle r="33" class="b"/><circle r="26" class="b"/>
<g class="sp"><line y1="-26" y2="-33"/><line y1="-26" y2="-33" transform="rotate(36)"/><line y1="-26" y2="-33" transform="rotate(79.2)"/><line y1="-26" y2="-33" transform="rotate(126)"/><line y1="-26" y2="-33" transform="rotate(162)"/><line y1="-26" y2="-33" transform="rotate(223.2)"/><line y1="-26" y2="-33" transform="rotate(270)"/><line y1="-26" y2="-33" transform="rotate(324)"/></g>
<text class="t" font-size="7.5"><tspan x="0" y="-6.9">Refer to</tspan><tspan x="0" y="2.6">Alternative</tspan><tspan x="0" y="12.1">Org.</tspan></text></g>

<g id="n-provide-mental-health-support" transform="translate(41,437)"><circle r="26" class="fw"/>
<circle r="29.5" pathLength="100" class="s med" stroke-dasharray="38 62" stroke-dashoffset="25"/>
<circle r="29.5" pathLength="100" class="s psy" stroke-dasharray="24 76" stroke-dashoffset="-13"/>
<circle r="29.5" pathLength="100" class="s idc" stroke-dasharray="38 62" stroke-dashoffset="-37"/>
<circle r="33" class="b"/><circle r="26" class="b"/>
<g class="sp"><line y1="-26" y2="-33"/><line y1="-26" y2="-33" transform="rotate(136.8)"/><line y1="-26" y2="-33" transform="rotate(223.2)"/></g>
<text class="t" font-size="8"><tspan x="0" y="-12.2">Provide</tspan><tspan x="0" y="-2.2">Mental</tspan><tspan x="0" y="7.8">Health</tspan><tspan x="0" y="17.8">Support</tspan></text></g>

<g id="n-recovery-support" transform="translate(273,455)"><circle r="26" class="fc"/>
<circle r="29.5" pathLength="100" class="s idc" stroke-dasharray="50 50" stroke-dashoffset="25"/>
<circle r="29.5" pathLength="100" class="s psy" stroke-dasharray="50 50" stroke-dashoffset="-25"/>
<circle r="33" class="b"/><circle r="26" class="b"/><path class="sp" d="M0,-26V-33M0,26V33"/>
<text class="t" font-size="9.5"><tspan x="0" y="-2.4">Recovery</tspan><tspan x="0" y="9.1">Support</tspan></text></g>

<g id="n-take-time-off-work" transform="translate(124,540)"><circle r="26" class="fw"/>
<circle r="29.5" class="s vic"/><circle r="33" class="b"/><circle r="26" class="b"/>
<text class="t" font-size="10.5"><tspan x="0" y="-9.3">Take</tspan><tspan x="0" y="3.7">Time Off</tspan><tspan x="0" y="16.7">Work</tspan></text></g>

<g id="n-seek-advice" transform="translate(327,585)"><circle r="26" class="fw"/>
<circle r="29.5" pathLength="100" class="s mp" stroke-dasharray="12 88" stroke-dashoffset="25"/>
<circle r="29.5" pathLength="100" class="s aco" stroke-dasharray="13 87" stroke-dashoffset="13"/>
<circle r="29.5" pathLength="100" class="s idc" stroke-dasharray="13 87" stroke-dashoffset="0"/>
<circle r="29.5" pathLength="100" class="s acc2" stroke-dasharray="12 88" stroke-dashoffset="-13"/>
<circle r="29.5" pathLength="100" class="s leg" stroke-dasharray="12 88" stroke-dashoffset="-25"/>
<circle r="29.5" pathLength="100" class="s fam" stroke-dasharray="13 87" stroke-dashoffset="-37"/>
<circle r="29.5" pathLength="100" class="s bre" stroke-dasharray="13 87" stroke-dashoffset="-50"/>
<circle r="29.5" pathLength="100" class="s vic" stroke-dasharray="12 88" stroke-dashoffset="-63"/>
<circle r="33" class="b"/><circle r="26" class="b"/>
<g class="sp"><line y1="-26" y2="-33"/><line y1="-26" y2="-33" transform="rotate(43.2)"/><line y1="-26" y2="-33" transform="rotate(90)"/><line y1="-26" y2="-33" transform="rotate(136.8)"/><line y1="-26" y2="-33" transform="rotate(180)"/><line y1="-26" y2="-33" transform="rotate(223.2)"/><line y1="-26" y2="-33" transform="rotate(270)"/><line y1="-26" y2="-33" transform="rotate(316.8)"/></g>
<text class="t" font-size="8"><tspan x="0" y="2.8">Seek Advice</tspan></text></g>

<g id="n-request-credit-reports" transform="translate(172,648)"><circle r="26" class="fo"/>
<circle r="29.5" pathLength="100" class="s exp" stroke-dasharray="25 75" stroke-dashoffset="25"/>
<circle r="29.5" pathLength="100" class="s ill" stroke-dasharray="20 80" stroke-dashoffset="0"/>
<circle r="29.5" pathLength="100" class="s equ" stroke-dasharray="30 70" stroke-dashoffset="-20"/>
<circle r="29.5" pathLength="100" class="s vic" stroke-dasharray="25 75" stroke-dashoffset="-50"/>
<circle r="33" class="b"/><circle r="26" class="b"/>
<g class="sp"><line y1="-26" y2="-33"/><line y1="-26" y2="-33" transform="rotate(90)"/><line y1="-26" y2="-33" transform="rotate(162)"/><line y1="-26" y2="-33" transform="rotate(270)"/></g>
<text class="t" font-size="9"><tspan x="0" y="-7.8">Request</tspan><tspan x="0" y="3.2">Credit</tspan><tspan x="0" y="14.2">Reports</tspan></text></g>

<g id="n-purchase-credit-alert-service" transform="translate(73,655)"><circle r="26" class="fw"/>
<circle r="29.5" pathLength="100" class="s exp" stroke-dasharray="25 75" stroke-dashoffset="25"/>
<circle r="29.5" pathLength="100" class="s ill" stroke-dasharray="25 75" stroke-dashoffset="0"/>
<circle r="29.5" pathLength="100" class="s equ" stroke-dasharray="25 75" stroke-dashoffset="-25"/>
<circle r="29.5" pathLength="100" class="s vic" stroke-dasharray="25 75" stroke-dashoffset="-50"/>
<circle r="33" class="b"/><circle r="26" class="b"/><path class="sp" d="M0,-26V-33M0,26V33M26,0H33M-26,0H-33"/>
<text class="t" font-size="8"><tspan x="0" y="-7.2">Purchase</tspan><tspan x="0" y="2.8">Credit Alert</tspan><tspan x="0" y="12.8">Service</tspan></text></g>

<g id="n-advocate-on-behalf-of-victim" transform="translate(247,730)"><circle r="26" class="fw"/>
<circle r="29.5" pathLength="100" class="s omb" stroke-dasharray="25 75" stroke-dashoffset="25"/>
<circle r="29.5" pathLength="100" class="s oai" stroke-dasharray="25 75" stroke-dashoffset="0"/>
<circle r="29.5" pathLength="100" class="s idc" stroke-dasharray="25 75" stroke-dashoffset="-25"/>
<circle r="29.5" pathLength="100" class="s law" stroke-dasharray="25 75" stroke-dashoffset="-50"/>
<circle r="33" class="b"/><circle r="26" class="b"/><path class="sp" d="M0,-26V-33M0,26V33M26,0H33M-26,0H-33"/>
<text class="t" font-size="9"><tspan x="0" y="-7.8">Advocate</tspan><tspan x="0" y="3.2">on Behalf</tspan><tspan x="0" y="14.2">of Victim</tspan></text></g>

<g id="n-expedite-process" transform="translate(355,731)"><circle r="26" class="fw"/>
<circle r="29.5" pathLength="100" class="s omb" stroke-dasharray="25 75" stroke-dashoffset="25"/>
<circle r="29.5" pathLength="100" class="s oai" stroke-dasharray="25 75" stroke-dashoffset="0"/>
<circle r="29.5" pathLength="100" class="s idc" stroke-dasharray="25 75" stroke-dashoffset="-25"/>
<circle r="29.5" pathLength="100" class="s law" stroke-dasharray="25 75" stroke-dashoffset="-50"/>
<circle r="33" class="b"/><circle r="26" class="b"/><path class="sp" d="M0,-26V-33M0,26V33M26,0H33M-26,0H-33"/>
<text class="t" font-size="9"><tspan x="0" y="-2.3">Expedite</tspan><tspan x="0" y="8.7">Process</tspan></text></g>

<g id="n-correct-credit-report" transform="translate(107,755)"><circle r="26" class="fw"/>
<circle r="29.5" pathLength="100" class="s ill" stroke-dasharray="35 65" stroke-dashoffset="25"/>
<circle r="29.5" pathLength="100" class="s equ" stroke-dasharray="25 75" stroke-dashoffset="-10"/>
<circle r="29.5" pathLength="100" class="s exp" stroke-dasharray="40 60" stroke-dashoffset="-35"/>
<circle r="33" class="b"/><circle r="26" class="b"/>
<g class="sp"><line y1="-26" y2="-33"/><line y1="-26" y2="-33" transform="rotate(126)"/><line y1="-26" y2="-33" transform="rotate(216)"/></g>
<text class="t" font-size="9"><tspan x="0" y="-7.8">Correct</tspan><tspan x="0" y="3.2">Credit</tspan><tspan x="0" y="14.2">Report</tspan></text></g>

<g id="n-remove-fraudulent-entry" transform="translate(90,861)"><circle r="26" class="fw"/>
<circle r="29.5" pathLength="100" class="s ill" stroke-dasharray="30 70" stroke-dashoffset="25"/>
<circle r="29.5" pathLength="100" class="s equ" stroke-dasharray="32 68" stroke-dashoffset="-5"/>
<circle r="29.5" pathLength="100" class="s exp" stroke-dasharray="38 62" stroke-dashoffset="-37"/>
<circle r="33" class="b"/><circle r="26" class="b"/>
<g class="sp"><line y1="-26" y2="-33"/><line y1="-26" y2="-33" transform="rotate(108)"/><line y1="-26" y2="-33" transform="rotate(223.2)"/></g>
<text class="t" font-size="8"><tspan x="0" y="-7.2">Remove</tspan><tspan x="0" y="2.8">Fraudulent</tspan><tspan x="0" y="12.8">Entry</tspan></text></g>

<g id="n-put-a-credit-ban-in-place" transform="translate(290,823)"><circle r="26" class="fw"/>
<circle r="29.5" pathLength="100" class="s exp" stroke-dasharray="25 75" stroke-dashoffset="25"/>
<circle r="29.5" pathLength="100" class="s ill" stroke-dasharray="25 75" stroke-dashoffset="0"/>
<circle r="29.5" pathLength="100" class="s equ" stroke-dasharray="25 75" stroke-dashoffset="-25"/>
<circle r="29.5" pathLength="100" class="s vic" stroke-dasharray="25 75" stroke-dashoffset="-50"/>
<circle r="33" class="b"/><circle r="26" class="b"/><path class="sp" d="M0,-26V-33M0,26V33M26,0H33M-26,0H-33"/>
<text class="t" font-size="8"><tspan x="0" y="-7.2">Put a Credit</tspan><tspan x="0" y="2.8">Ban in</tspan><tspan x="0" y="12.8">Place</tspan></text></g>

<g id="n-extend-bans" transform="translate(288,907)"><circle r="26" class="fw"/>
<circle r="29.5" pathLength="100" class="s exp" stroke-dasharray="25 75" stroke-dashoffset="25"/>
<circle r="29.5" pathLength="100" class="s ill" stroke-dasharray="25 75" stroke-dashoffset="0"/>
<circle r="29.5" pathLength="100" class="s equ" stroke-dasharray="25 75" stroke-dashoffset="-25"/>
<circle r="29.5" pathLength="100" class="s vic" stroke-dasharray="25 75" stroke-dashoffset="-50"/>
<circle r="33" class="b"/><circle r="26" class="b"/><path class="sp" d="M0,-26V-33M0,26V33M26,0H33M-26,0H-33"/>
<text class="t" font-size="10"><tspan x="0" y="-2.5">Extend</tspan><tspan x="0" y="9.5">Bans</tspan></text></g>

<g id="n-request-cmwth-victim-cert" transform="translate(387,889)"><circle r="26" class="fw"/>
<circle r="29.5" class="s vic"/><circle r="33" class="b"/><circle r="26" class="b"/>
<text class="t" font-size="7.5"><tspan x="0" y="-6.9">Request</tspan><tspan x="0" y="2.6">Cmwth</tspan><tspan x="0" y="12.1">Victim Cert.</tspan></text></g>

<g id="n-engage-debt-collector" transform="translate(453,647)"><circle r="26" class="fw"/>
<circle r="29.5" pathLength="100" class="s ret" stroke-dasharray="18 82" stroke-dashoffset="-65"/>
<circle r="29.5" pathLength="100" class="s isp" stroke-dasharray="12 88" stroke-dashoffset="17"/>
<circle r="29.5" pathLength="100" class="s dbt" stroke-dasharray="15 85" stroke-dashoffset="5"/>
<circle r="29.5" pathLength="100" class="s exp" stroke-dasharray="15 85" stroke-dashoffset="-10"/>
<circle r="29.5" pathLength="100" class="s ill" stroke-dasharray="12 88" stroke-dashoffset="-25"/>
<circle r="29.5" pathLength="100" class="s equ" stroke-dasharray="16 84" stroke-dashoffset="-37"/>
<circle r="29.5" pathLength="100" class="s acc" stroke-dasharray="12 88" stroke-dashoffset="-53"/>
<circle r="33" class="b"/><circle r="26" class="b"/>
<g class="sp"><line y1="-26" y2="-33" transform="rotate(28.8)"/><line y1="-26" y2="-33" transform="rotate(72)"/><line y1="-26" y2="-33" transform="rotate(126)"/><line y1="-26" y2="-33" transform="rotate(180)"/><line y1="-26" y2="-33" transform="rotate(223.2)"/><line y1="-26" y2="-33" transform="rotate(280.8)"/><line y1="-26" y2="-33" transform="rotate(324)"/></g>
<text class="t" font-size="9"><tspan x="0" y="-7.8">Engage</tspan><tspan x="0" y="3.2">Debt</tspan><tspan x="0" y="14.2">Collector</tspan></text></g>

<g id="n-collect-debt" transform="translate(464,823)"><circle r="26" class="fw"/>
<circle r="29.5" pathLength="100" class="s ret" stroke-dasharray="18 82" stroke-dashoffset="-65"/>
<circle r="29.5" pathLength="100" class="s isp" stroke-dasharray="12 88" stroke-dashoffset="17"/>
<circle r="29.5" pathLength="100" class="s dbt" stroke-dasharray="15 85" stroke-dashoffset="5"/>
<circle r="29.5" pathLength="100" class="s exp" stroke-dasharray="20 80" stroke-dashoffset="-10"/>
<circle r="29.5" pathLength="100" class="s ill" stroke-dasharray="10 90" stroke-dashoffset="-30"/>
<circle r="29.5" pathLength="100" class="s equ" stroke-dasharray="15 85" stroke-dashoffset="-40"/>
<circle r="29.5" pathLength="100" class="s acc" stroke-dasharray="10 90" stroke-dashoffset="-55"/>
<circle r="33" class="b"/><circle r="26" class="b"/>
<g class="sp"><line y1="-26" y2="-33" transform="rotate(28.8)"/><line y1="-26" y2="-33" transform="rotate(72)"/><line y1="-26" y2="-33" transform="rotate(126)"/><line y1="-26" y2="-33" transform="rotate(198)"/><line y1="-26" y2="-33" transform="rotate(234)"/><line y1="-26" y2="-33" transform="rotate(288)"/><line y1="-26" y2="-33" transform="rotate(324)"/></g>
<text class="t" font-size="9.5"><tspan x="0" y="-2.4">Collect</tspan><tspan x="0" y="9.1">Debt</tspan></text></g>

<g id="n-dispute-debts" transform="translate(669,688)"><circle r="26" class="fo"/>
<circle r="29.5" pathLength="100" class="s vic" stroke-dasharray="22 78" stroke-dashoffset="-65"/>
<circle r="29.5" pathLength="100" class="s isp" stroke-dasharray="15 85" stroke-dashoffset="13"/>
<circle r="29.5" pathLength="100" class="s dbt" stroke-dasharray="13 87" stroke-dashoffset="-2"/>
<circle r="29.5" pathLength="100" class="s exp" stroke-dasharray="20 80" stroke-dashoffset="-15"/>
<circle r="29.5" pathLength="100" class="s ill" stroke-dasharray="15 85" stroke-dashoffset="-35"/>
<circle r="29.5" pathLength="100" class="s acc" stroke-dasharray="15 85" stroke-dashoffset="-50"/>
<circle r="33" class="b"/><circle r="26" class="b"/>
<g class="sp"><line y1="-26" y2="-33" transform="rotate(43.2)"/><line y1="-26" y2="-33" transform="rotate(97.2)"/><line y1="-26" y2="-33" transform="rotate(144)"/><line y1="-26" y2="-33" transform="rotate(216)"/><line y1="-26" y2="-33" transform="rotate(270)"/><line y1="-26" y2="-33" transform="rotate(324)"/></g>
<text class="t" font-size="9.5"><tspan x="0" y="-2.4">Dispute</tspan><tspan x="0" y="9.1">Debts</tspan></text></g>

<g id="n-clear-debt" transform="translate(851,740)"><circle r="26" class="fw"/>
<circle r="29.5" pathLength="100" class="s ret" stroke-dasharray="22 78" stroke-dashoffset="-63"/>
<circle r="29.5" pathLength="100" class="s isp" stroke-dasharray="15 85" stroke-dashoffset="15"/>
<circle r="29.5" pathLength="100" class="s dbt" stroke-dasharray="15 85" stroke-dashoffset="0"/>
<circle r="29.5" pathLength="100" class="s exp" stroke-dasharray="20 80" stroke-dashoffset="-15"/>
<circle r="29.5" pathLength="100" class="s ill" stroke-dasharray="15 85" stroke-dashoffset="-35"/>
<circle r="29.5" pathLength="100" class="s acc" stroke-dasharray="13 87" stroke-dashoffset="-50"/>
<circle r="33" class="b"/><circle r="26" class="b"/>
<g class="sp"><line y1="-26" y2="-33" transform="rotate(36)"/><line y1="-26" y2="-33" transform="rotate(90)"/><line y1="-26" y2="-33" transform="rotate(144)"/><line y1="-26" y2="-33" transform="rotate(216)"/><line y1="-26" y2="-33" transform="rotate(270)"/><line y1="-26" y2="-33" transform="rotate(316.8)"/></g>
<text class="t" font-size="9.5"><tspan x="0" y="3.3">Clear Debt</tspan></text></g>

<g id="n-close-fraudulent-accounts" transform="translate(588,823)"><circle r="26" class="fo"/>
<circle r="29.5" pathLength="100" class="s vic" stroke-dasharray="50 50" stroke-dashoffset="25"/>
<circle r="29.5" pathLength="100" class="s fin" stroke-dasharray="50 50" stroke-dashoffset="-25"/>
<circle r="33" class="b"/><circle r="26" class="b"/><path class="sp" d="M0,-26V-33M0,26V33"/>
<text class="t" font-size="8"><tspan x="0" y="-7.2">Close</tspan><tspan x="0" y="2.8">Fraudulent</tspan><tspan x="0" y="12.8">Accounts</tspan></text></g>

<g id="n-change-bank-account" transform="translate(785,839)"><circle r="26" class="fw"/>
<circle r="29.5" pathLength="100" class="s vic" stroke-dasharray="50 50" stroke-dashoffset="25"/>
<circle r="29.5" pathLength="100" class="s fin" stroke-dasharray="50 50" stroke-dashoffset="-25"/>
<circle r="33" class="b"/><circle r="26" class="b"/><path class="sp" d="M0,-26V-33M0,26V33"/>
<text class="t" font-size="8"><tspan x="0" y="-7.2">Change</tspan><tspan x="0" y="2.8">Bank</tspan><tspan x="0" y="12.8">Account</tspan></text></g>

<g id="n-return-funds" transform="translate(571,923)"><circle r="26" class="fw"/>
<circle r="29.5" pathLength="100" class="s ato" stroke-dasharray="30 70" stroke-dashoffset="25"/>
<circle r="29.5" pathLength="100" class="s fin" stroke-dasharray="35 65" stroke-dashoffset="-5"/>
<circle r="29.5" pathLength="100" class="s ret" stroke-dasharray="35 65" stroke-dashoffset="-40"/>
<circle r="33" class="b"/><circle r="26" class="b"/>
<g class="sp"><line y1="-26" y2="-33"/><line y1="-26" y2="-33" transform="rotate(108)"/><line y1="-26" y2="-33" transform="rotate(234)"/></g>
<text class="t" font-size="10"><tspan x="0" y="-2.5">Return</tspan><tspan x="0" y="9.5">Funds</tspan></text></g>

<g id="n-change-bank" transform="translate(926,807)"><circle r="26" class="fw"/>
<circle r="29.5" pathLength="100" class="s vic" stroke-dasharray="50 50" stroke-dashoffset="25"/>
<circle r="29.5" pathLength="100" class="s fin" stroke-dasharray="50 50" stroke-dashoffset="-25"/>
<circle r="33" class="b"/><circle r="26" class="b"/><path class="sp" d="M0,-26V-33M0,26V33"/>
<text class="t" font-size="8"><tspan x="0" y="-2.2">Change</tspan><tspan x="0" y="7.8">Bank</tspan></text></g>

<g id="legend">
<rect class="lb" x="1339" y="44" width="22" height="22" fill="#CCE8FF"/><text class="lg" x="1367" y="59">Victim</text>
<rect class="lb" x="1339" y="71" width="22" height="22" fill="#99CCFF"/><text class="lg" x="1368" y="86">Law Enforcement</text>
<rect class="lb" x="1339" y="99" width="22" height="22" fill="#6699FF"/><text class="lg" x="1366" y="107">Australian Cybercrime Online</text><text class="lg" x="1366" y="121">Reporting Network (ACORN)</text>
<rect class="lb" x="1339" y="126" width="22" height="22" fill="#3333FF"/><text class="lg" x="1368" y="141">Legal Services Provider</text>
<rect class="lb" x="1339" y="155" width="22" height="22" fill="#000099"/><text class="lg" x="1369" y="170">Physical Security</text>
<rect class="lb" x="1339" y="182" width="22" height="22" fill="#CCFFCC"/><text class="lg" x="1369" y="197">Financial Insitutions</text>
<rect class="lb" x="1339" y="208" width="22" height="22" fill="#80FFC0"/><text class="lg" x="1369" y="223">Experian</text>
<rect class="lb" x="1339" y="237" width="22" height="22" fill="#00DD88"/><text class="lg" x="1369" y="252">Illion</text>
<rect class="lb" x="1339" y="266" width="22" height="22" fill="#009999"/><text class="lg" x="1369" y="281">Equifax</text>
<rect class="lb" x="1339" y="292" width="22" height="22" fill="#005555"/><text class="lg" x="1369" y="307">Accountant</text>
<rect class="lb" x="1339" y="321" width="22" height="22" fill="#CCCCFF"/><text class="lg" x="1367" y="336">Australian Taxation Office (ATO)</text>
<rect class="lb" x="1339" y="347" width="22" height="22" fill="#CC99FF"/><text class="lg" x="1369" y="362">Debt Collector</text>
<rect class="lb" x="1339" y="376" width="22" height="22" fill="#9966FF"/><text class="lg" x="1369" y="385">Australian Competition and</text><text class="lg" x="1369" y="399">Consumer Commission (ACCC)</text>
<rect class="lb" x="1339" y="404" width="22" height="22" fill="#7F00DF"/><text class="lg" x="1369" y="419">Insurer</text>
<rect class="lb" x="1339" y="431" width="22" height="22" fill="#330077"/><text class="lg" x="1367" y="446">Retailer</text>
<rect class="lb" x="1339" y="460" width="22" height="22" fill="#FFDDFF"/><text class="lg" x="1366" y="475">ISPs &amp; Comms Provider</text>
<rect class="lb" x="1339" y="487" width="22" height="22" fill="#FF99CC"/><text class="lg" x="1367" y="502">Website Provider</text>
<rect class="lb" x="1339" y="519" width="22" height="22" fill="#FF4D80"/><text class="lg" x="1368" y="534">IT Service Providers</text>
<rect class="lb" x="1339" y="547" width="22" height="22" fill="#E8003C"/><text class="lg" x="1367" y="562">Cyber Security Vendor</text>
<rect class="lb" x="1339" y="574" width="22" height="22" fill="#CC0066"/><text class="lg" x="1369" y="589">Utilities Service Providers</text>

<rect class="lb" x="1525" y="46" width="22" height="22" fill="#FFCCCC"/><text class="lg" x="1554" y="52">Department of Foreign Affairs</text><text class="lg" x="1554" y="66">and Trade (DFAT)</text>
<rect class="lb" x="1525" y="72" width="22" height="22" fill="#FFCC66"/><text class="lg" x="1554" y="80">Department of Births, Deaths,</text><text class="lg" x="1554" y="95">and Marriages (BDM)</text>
<rect class="lb" x="1525" y="101" width="22" height="22" fill="#FF9966"/><text class="lg" x="1554" y="110">Department of Human Services</text><text class="lg" x="1554" y="124">(DHS)</text>
<rect class="lb" x="1525" y="127" width="22" height="22" fill="#FF6600"/><text class="lg" x="1554" y="142">Transport Department</text>
<rect class="lb" x="1525" y="156" width="22" height="22" fill="#FF3300"/><text class="lg" x="1554" y="171">Postal Services</text>
<rect class="lb" x="1525" y="182" width="22" height="22" fill="#FFFFCC"/><text class="lg" x="1554" y="190">Office of the Australian</text><text class="lg" x="1554" y="204">Information Commissioner (OAIC)</text>
<rect class="lb" x="1525" y="211" width="22" height="22" fill="#FFFF66"/><text class="lg" x="1554" y="226">Ombudsman</text>
<rect class="lb" x="1525" y="239" width="22" height="22" fill="#CCFF66"/><text class="lg" x="1554" y="254">IDCARE</text>
<rect class="lb" x="1525" y="266" width="22" height="22" fill="#99CC00"/><text class="lg" x="1553" y="281">Medical Services</text>
<rect class="lb" x="1525" y="294" width="22" height="22" fill="#CCCC00"/><text class="lg" x="1553" y="309">Psychologist</text>
<rect class="lb" x="1525" y="321" width="22" height="22" fill="#666699"/><text class="lg" x="1552" y="336">Breached Organisation</text>
<rect class="lb" x="1525" y="350" width="22" height="22" fill="#336699"/><text class="lg" x="1553" y="365">Family &amp; Friends</text>
<rect class="lb" x="1525" y="378" width="22" height="22" fill="#BFBFBF"/><text class="lg" x="1553" y="393">Member of Parliament</text>
<rect class="lb" x="1525" y="406" width="22" height="22" fill="#555555"/><text class="lg" x="1553" y="421">Social Media</text>
<rect class="lb" x="1525" y="434" width="22" height="22" fill="url(#hatch)"/><text class="lg" x="1553" y="441">Australian Criminal Intelligence</text><text class="lg" x="1553" y="455">Commission (ACIC)</text>
<rect class="lb" x="1525" y="463" width="22" height="22" fill="url(#hatch)"/><text class="lg" x="1553" y="478">Interpol</text>
<rect class="lb" x="1525" y="493" width="22" height="22" fill="url(#hatch)"/><text class="lg" x="1553" y="508">Credit Providers Network</text>
</g>

<g id="credit">
<text x="1123" y="858" font-family="Lato, 'Liberation Sans', sans-serif" font-size="21" fill="#111" textLength="390">Image credit: Megan Wyre, Identity and</text>
<text x="1123" y="887" font-family="Lato, 'Liberation Sans', sans-serif" font-size="21" fill="#111" textLength="362">Cyber Security Analyst, IDCARE 2019</text>
</g>
</svg>
